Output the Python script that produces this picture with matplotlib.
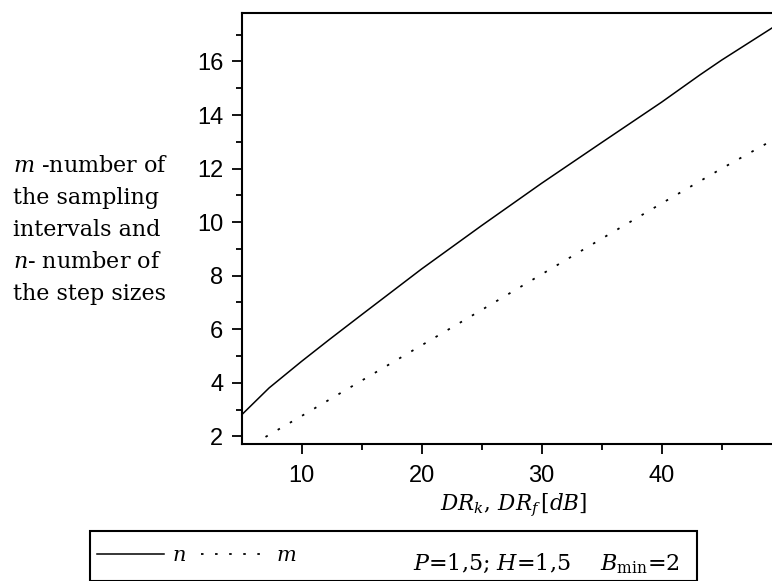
import matplotlib
matplotlib.use('Agg')
import matplotlib.pyplot as plt
from matplotlib.patches import Rectangle
import numpy as np

plt.rcParams['mathtext.fontset'] = 'dejavuserif'

# values
dr = [5, 7.3, 10, 12.3, 15, 20, 25, 30, 35, 40, 43.2, 45, 49.2]
n_vals = [2.8, 3.81, 4.8, 5.61, 6.54, 8.25, 9.87, 11.45, 12.97, 14.48, 15.5, 16.05, 17.25]
dr_m = [7, 10, 15, 20, 25, 30, 35, 40, 45, 49.2]
m_vals = [1.98, 2.76, 4.08, 5.4, 6.72, 8.05, 9.38, 10.7, 12.0, 13.05]

left_lines = ['$m$ -number of', 'the sampling', 'intervals and',
              '$n$- number of', 'the step sizes']
xticks = [10, 20, 30, 40]
yticks = [2, 4, 6, 8, 10, 12, 14, 16]

W, H = 772, 581
fig = plt.figure(figsize=(W / 100, H / 100), dpi=100)
ax = fig.add_axes([241.5 / W, (H - 444) / H, 1 - 241.5 / W, (444 - 13) / H])

ln_n, = ax.plot(dr, n_vals, color='black', lw=1.1)
ln_m, = ax.plot(dr_m, m_vals, color='black', lw=1.3, linestyle=(0, (1.4, 6.4)))

ax.set_xlim(5, 49.2)
ax.set_ylim(1.716, 17.81)
ax.set_xticks(xticks)
ax.set_yticks(yticks)
ax.set_xticks([15, 25, 35, 45], minor=True)
ax.set_yticks([3, 5, 7, 9, 11, 13, 15, 17], minor=True)
ax.spines['right'].set_visible(False)
for s in ['left', 'bottom', 'top']:
    ax.spines[s].set_linewidth(1.5)
ax.tick_params(which='major', length=7, width=1.3, labelsize=17)
ax.tick_params(axis='x', which='major', pad=8)
ax.tick_params(axis='y', which='major', pad=6)
ax.tick_params(which='minor', length=4.5, width=1.3)
for lab in ax.get_xticklabels() + ax.get_yticklabels():
    lab.set_fontfamily('Liberation Sans')

fig.text(514 / W, (H - 510) / H, r'$DR_k,\,DR_f\,[dB]$', ha='center',
         va='baseline', fontsize=15.5)

for i, line in enumerate(left_lines):
    fig.text(13 / W, (H - (172 + 32 * i)) / H, line, ha='left',
             va='baseline', fontsize=16, family='DejaVu Serif')

# legend box
fig.add_artist(Rectangle((90 / W, 0.5 / H), (697 - 90) / W, (581 - 531) / H,
                         transform=fig.transFigure, fill=False, lw=1.5, ec='black'))
fig.legend([ln_n, ln_m], ['$n$', '$m$'], ncol=2, loc='center left',
           bbox_to_anchor=(97 / W, (H - 555) / H), frameon=False, fontsize=15,
           handlelength=3.2, handletextpad=0.4, columnspacing=0.7,
           borderpad=0, borderaxespad=0)
fig.text(413 / W, (H - 570) / H, '$P$=1,5; $H$=1,5', fontsize=16,
         family='DejaVu Serif', va='baseline')
fig.text(600 / W, (H - 570) / H, r'$B_{\mathrm{min}}$=2', fontsize=16,
         family='DejaVu Serif', va='baseline')

fig.savefig('out.png', dpi=100)
